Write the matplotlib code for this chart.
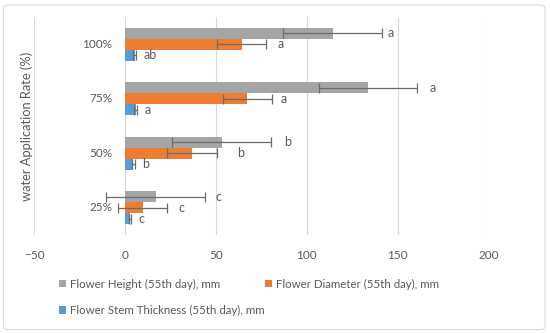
import matplotlib.pyplot as plt
from matplotlib.patches import FancyBboxPatch
from matplotlib.transforms import blended_transform_factory

plt.rcParams['font.family'] = ['Lato', 'DejaVu Sans']

rates = ['25%', '50%', '75%', '100%']
height = [16.9, 53.2, 133.8, 114.4]
height_err = [27.2, 27.0, 27.0, 27.2]
diameter = [9.7, 36.9, 67.4, 64.2]
diameter_err = [13.7, 13.7, 13.6, 13.6]
stem = [2.8, 4.6, 6.0, 5.5]
stem_err = [0.8, 0.8, 0.8, 0.8]

height_letters = ['c', 'b', 'a', 'a']
height_letter_x = [49.9, 87.6, 167.6, 144.8]
diameter_letters = ['c', 'b', 'a', 'a']
diameter_letter_x = [29.4, 61.5, 85.7, 83.8]
stem_letters = ['c', 'b', 'a', 'ab']
stem_letter_x = [7.5, 9.5, 10.6, 10.5]

grey = '#A5A5A5'
orange = '#ED7D31'
blue = '#5B9BD5'
txt = '#595959'

fig = plt.figure(figsize=(5.5, 3.33), dpi=100)
ax = fig.add_axes([0.0618, 0.2943, 0.8262, 0.6547])

bh = 0.2
pos = list(range(len(rates)))
series = [
    (height, height_err, height_letters, height_letter_x, grey, 'Flower Height (55th day), mm', bh),
    (diameter, diameter_err, diameter_letters, diameter_letter_x, orange, 'Flower Diameter (55th day), mm', 0),
    (stem, stem_err, stem_letters, stem_letter_x, blue, 'Flower Stem Thickness (55th day), mm', -bh),
]
handles = []
for vals, errs, letters, lx, col, lab, off in series:
    y = [p + off for p in pos]
    b = ax.barh(y, vals, height=bh, color=col, label=lab, zorder=2)
    handles.append(b)
    ax.errorbar(vals, y, xerr=errs, fmt='none', ecolor='#6b6b6b', elinewidth=0.9,
                capsize=3.5, capthick=0.9, zorder=3)
    for yy, l, xx in zip(y, letters, lx):
        ax.text(xx, yy, l, ha='left', va='center', fontsize=9, color=txt)

ax.set_xlim(-50, 200)
ax.set_ylim(-0.5, 3.5)
ax.set_xticks([-50, 0, 50, 100, 150, 200])
ax.grid(axis='x', color='#d9d9d9', linewidth=0.8, zorder=0)
ax.set_axisbelow(True)
for s in ax.spines.values():
    s.set_visible(False)
ax.tick_params(axis='x', length=0, pad=11, labelsize=8.5, labelcolor=txt)
ax.set_yticks([])

tr = blended_transform_factory(ax.transData, ax.transData)
for p, r in zip(pos, rates):
    ax.text(-7, p, r, ha='right', va='center', fontsize=8.5, color=txt, transform=tr)

fig.text(0.049, 0.62, 'water Application Rate (%)', rotation=90, ha='center', va='center',
         fontsize=9.3, color=txt)

leg = fig.legend([handles[0], handles[2], handles[1]],
                 ['Flower Height (55th day), mm', 'Flower Stem Thickness (55th day), mm',
                  'Flower Diameter (55th day), mm'],
                 ncol=2, loc='upper left', bbox_to_anchor=(0.097, 0.18), frameon=False,
                 fontsize=8.3, handlelength=0.6, handleheight=0.6, handletextpad=0.35,
                 columnspacing=0.0, labelspacing=1.3, borderpad=0)
for t in leg.get_texts():
    t.set_color(txt)

border = FancyBboxPatch((0.006, 0.01), 0.985, 0.975, boxstyle='round,pad=0,rounding_size=0.01',
                        transform=fig.transFigure, facecolor='none', edgecolor='#d9d9d9',
                        linewidth=0.8)
fig.patches.append(border)

fig.savefig('out.png', dpi=100)
